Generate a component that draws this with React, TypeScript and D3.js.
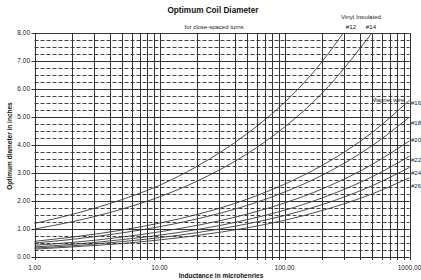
import * as d3 from "d3";

// Inductance (uH) sample points
const inductance = [1, 2, 5, 10, 20, 50, 100, 200, 500, 1000];

// Vinyl insulated wire: stop where the curve leaves the top of the plot
const vinylL12 = [1, 2, 5, 10, 20, 50, 100, 200, 295];
const vinyl12 = [1.2, 1.52, 2.05, 2.56, 3.24, 4.4, 5.52, 6.98, 8.0];
const vinylL14 = [1, 2, 5, 10, 20, 50, 100, 200, 500];
const vinyl14 = [1.0, 1.26, 1.71, 2.15, 2.71, 3.68, 4.64, 5.85, 8.0];

// Magnet wire
const magnet16 = [0.56, 0.71, 0.96, 1.21, 1.52, 2.06, 2.6, 3.27, 4.44, 5.6];
const magnet18 = [0.5, 0.63, 0.86, 1.08, 1.36, 1.84, 2.32, 2.92, 3.97, 5.0];
const magnet20 = [0.42, 0.52, 0.71, 0.9, 1.13, 1.53, 1.93, 2.43, 3.3, 4.15];
const magnet22 = [0.36, 0.45, 0.62, 0.78, 0.98, 1.33, 1.67, 2.11, 2.86, 3.6];
const magnet24 = [0.32, 0.4, 0.55, 0.69, 0.87, 1.18, 1.48, 1.87, 2.54, 3.2];
const magnet26 = [0.28, 0.36, 0.48, 0.61, 0.77, 1.04, 1.31, 1.66, 2.25, 2.83];

const magnetNames = ["#16", "#18", "#20", "#22", "#24", "#26"];
const magnetSeries = [magnet16, magnet18, magnet20, magnet22, magnet24, magnet26];
// where each gauge label sits on the right margin (diameter units)
const magnetLabelAt = [5.5, 4.8, 4.18, 3.46, 3.01, 2.55];

const xTicks = [1, 10, 100, 1000];
const yTicks = [0, 1, 2, 3, 4, 5, 6, 7, 8];

const W = 421;
const H = 280;
const font = "'Liberation Sans', Arial, sans-serif";

export default function App() {
  const x = d3.scaleLog().domain([1, 1000]).range([34.5, 409.5]);
  const y = d3.scaleLinear().domain([0, 8]).range([257, 33]);

  const line = d3
    .line<[number, number]>()
    .x((d) => x(d[0]))
    .y((d) => y(d[1]))
    .curve(d3.curveMonotoneX);

  const zip = (xs: number[], ys: number[]) =>
    xs.map((v, i) => [v, ys[i]] as [number, number]);

  // all decade gridlines 1..9 x 10^k
  const vLines: number[] = [];
  [1, 10, 100].forEach((base) => {
    for (let m = 1; m <= 9; m++) vLines.push(base * m);
  });
  vLines.push(1000);

  const minorY: number[] = [];
  for (let v = 0; v < 8; v++) [0.25, 0.5, 0.75].forEach((f) => minorY.push(v + f));

  const crisp = (v: number) => Math.round(v) + 0.5;
  const grid = "#333";

  const [x0, x1] = x.range();
  const [y0, y1] = y.range();

  return (
    <svg
      width={W}
      height={H}
      style={{ position: "absolute", left: 0, top: 0, background: "#fff" }}
      fontFamily={font}
    >
      {/* minor dashed gridlines */}
      {minorY.map((v) => (
        <line
          key={"m" + v}
          x1={x0}
          x2={x1}
          y1={crisp(y(v))}
          y2={crisp(y(v))}
          stroke="#111"
          strokeWidth={0.8}
          strokeDasharray="4,2"
        />
      ))}
      {/* major horizontal gridlines */}
      {yTicks.map((v) => (
        <line
          key={"h" + v}
          x1={x0 - 3}
          x2={x1}
          y1={crisp(y(v))}
          y2={crisp(y(v))}
          stroke={grid}
          strokeWidth={1}
        />
      ))}
      {/* vertical gridlines */}
      {vLines.map((v) => (
        <line
          key={"v" + v}
          x1={crisp(x(v))}
          x2={crisp(x(v))}
          y1={y1}
          y2={y0 + 3}
          stroke={grid}
          strokeWidth={1}
        />
      ))}

      {/* curves */}
      <g fill="none" stroke="#3a3a3a" strokeWidth={0.9}>
        <path d={line(zip(vinylL12, vinyl12)) || ""} />
        <path d={line(zip(vinylL14, vinyl14)) || ""} />
        {magnetSeries.map((s, i) => (
          <path key={i} d={line(zip(inductance, s)) || ""} />
        ))}
      </g>

      {/* axis tick labels */}
      {yTicks.map((v) => (
        <text
          key={"yl" + v}
          x={30}
          y={y(v)}
          dy="0.35em"
          textAnchor="end"
          fontSize={6.5}
          fill="#222"
        >
          {v.toFixed(2)}
        </text>
      ))}
      {xTicks.map((v) => (
        <text
          key={"xl" + v}
          x={x(v)}
          y={268}
          dy="0.35em"
          textAnchor="middle"
          fontSize={6.5}
          fill="#222"
        >
          {v.toFixed(2)}
        </text>
      ))}

      {/* titles */}
      <text x={213} y={13} textAnchor="middle" fontSize={8.2} fontWeight="bold" fill="#111">
        Optimum Coil Diameter
      </text>
      <text x={214} y={29} textAnchor="middle" fontSize={6} fill="#222">
        for close-spaced turns
      </text>
      <text x={221} y={278} textAnchor="middle" fontSize={6.5} fontWeight="bold" fill="#111">
        Inductance in microhenries
      </text>
      <text
        transform={`translate(12,${146}) rotate(-90)`}
        textAnchor="middle"
        fontSize={6.5}
        fontWeight="bold"
        fill="#111"
      >
        Optimum diameter in inches
      </text>

      {/* curve labels */}
      <text x={361} y={19} textAnchor="middle" fontSize={6.2} fill="#222">
        Vinyl Insulated
      </text>
      <text x={351} y={29} textAnchor="middle" fontSize={6.2} fill="#222">
        #12
      </text>
      <text x={371} y={29} textAnchor="middle" fontSize={6.2} fill="#222">
        #14
      </text>
      <text x={388} y={y(5.6)} dy="0.35em" textAnchor="middle" fontSize={6} fill="#222">
        Magnet wire
      </text>
      {magnetNames.map((n, i) => (
        <text
          key={n}
          x={411}
          y={y(magnetLabelAt[i])}
          dy="0.35em"
          fontSize={6}
          fill="#222"
        >
          {n}
        </text>
      ))}
    </svg>
  );
}
